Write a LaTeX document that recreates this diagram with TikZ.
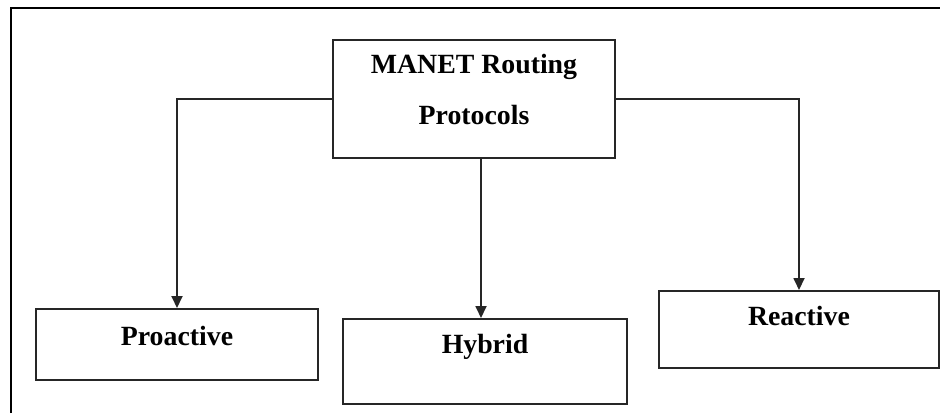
\documentclass[tikz,border=0pt]{standalone}
\usepackage{fontspec}
\setmainfont{Liberation Serif}
\usetikzlibrary{positioning,arrows.meta}
\tikzset{
  rtarr/.style={-{Triangle[length=6pt,width=5.5pt]},line width=0.9pt,draw=black!85},
  rootbox/.style={draw=black!85,line width=0.9pt,align=center,minimum width=141pt,
                  anchor=north,inner sep=0pt,text height=42.5pt,text depth=16.5pt,
                  font=\fontsize{13.9pt}{25.5pt}\selectfont\bfseries},
  kindbox/.style={draw=black!85,line width=0.9pt,anchor=north,inner xsep=0pt,inner ysep=0pt,
                  font=\fontsize{13.9pt}{16pt}\selectfont\bfseries}
}

\begin{document}
\begin{tikzpicture}[x=0.5pt,y=-0.5pt]
\useasboundingbox (0,0) rectangle (940,413);
\draw[line width=1pt] (11,413) -- (11,8) -- (940,8);

\node[rootbox] (root) at (474,39) {MANET Routing\\Protocols};
\node[kindbox, minimum width=141pt, text height=18.5pt, text depth=17pt] (pro) at (177,308) {Proactive};
\node[kindbox, minimum width=142pt, text height=17.5pt, text depth=25pt] (hyb) at (485,318) {Hybrid};
\node[kindbox, minimum width=140pt, text height=17.5pt, text depth=21pt] (rea) at (799,290) {Reactive};

\draw[rtarr] (root.west) -| (pro.north);
\draw[rtarr] ([xshift=-2pt]hyb.north |- root.south) -- ([xshift=-2pt]hyb.north);
\draw[rtarr] (root.east) -| (rea.north);
\end{tikzpicture}
\end{document}
